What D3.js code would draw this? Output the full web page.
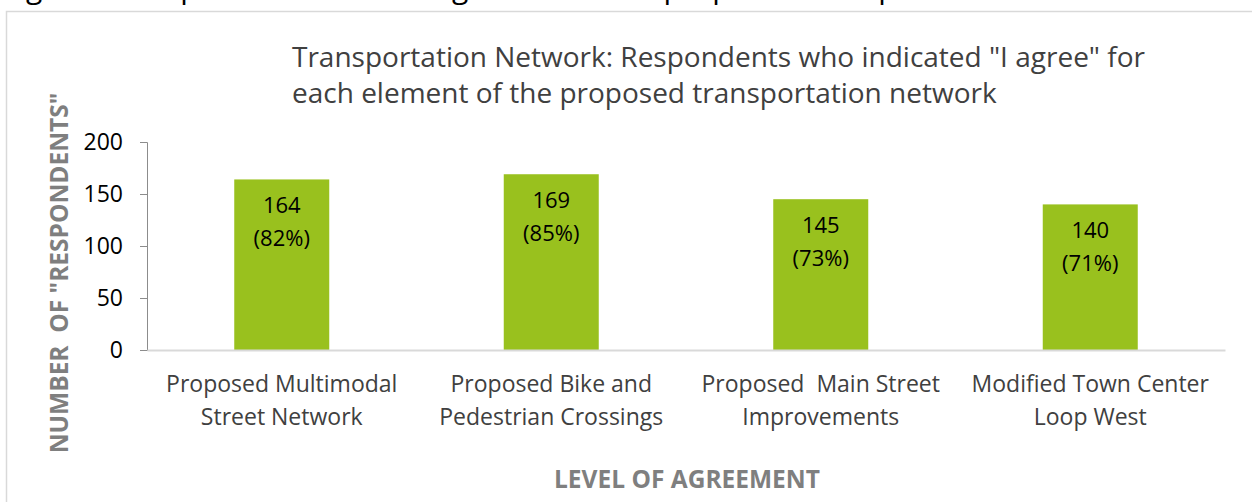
<!DOCTYPE html>
<html>
<head>
<meta charset="utf-8">
<script src="https://cdn.jsdelivr.net/npm/d3@7"></script>
<style>
  body { margin: 0; background: #fff; }
  svg { display: block; font-family: "Open Sans", sans-serif; }
</style>
</head>
<body>
<div id="chart"></div>
<script>
// data
const categories = [
  ["Proposed Multimodal", "Street Network"],
  ["Proposed Bike and", "Pedestrian Crossings"],
  ["Proposed\u00a0 Main Street", "Improvements"],
  ["Modified Town Center", "Loop West"]
];
const agreeCounts = [164, 169, 145, 140];
const agreePercents = [82, 85, 73, 71];
const yTicks = [0, 50, 100, 150, 200];

const width = 1252, height = 502;
const plotLeft = 147, plotRight = 1225, plotTop = 142, plotBottom = 350;

const svg = d3.select("#chart")
  .append("svg")
    .attr("width", width)
    .attr("height", height);

// caption of the page above, mostly cut off
svg.append("text")
  .attr("x", 3)
  .attr("y", -2)
  .style("font-size", "30px")
  .style("fill", "#000")
  .text("Figure 6: Respondents' level of agreement with proposed transportation network elements");

// chart frame
svg.append("rect")
  .attr("x", 6.5).attr("y", 11.5)
  .attr("width", 1300).attr("height", 600)
  .style("fill", "none")
  .style("stroke", "#d9d9d9")
  .style("stroke-width", 1.5);

const x = d3.scaleBand()
  .domain(d3.range(categories.length))
  .range([plotLeft, plotRight])
  .paddingInner(0.6475)
  .paddingOuter(0.32375);

const y = d3.scaleLinear()
  .domain([0, 200])
  .range([plotBottom, plotTop]);

// title
const title = svg.append("text")
  .attr("x", 292)
  .attr("y", 67)
  .style("font-size", "28px")
  .style("fill", "#404040");
title.append("tspan").attr("x", 292).text('Transportation Network: Respondents who indicated "I agree" for');
title.append("tspan").attr("x", 292).attr("dy", 36).text("each element of the proposed transportation network");

// y axis
const yAxis = svg.append("g")
  .attr("transform", `translate(${plotLeft},0)`)
  .call(d3.axisLeft(y).tickValues(yTicks).tickSize(7).tickPadding(17));
yAxis.select(".domain").style("stroke", "#8c8c8c");
yAxis.selectAll(".tick line").style("stroke", "#8c8c8c");
yAxis.selectAll(".tick text")
  .style("font-size", "23px")
  .style("font-family", "'Open Sans', sans-serif")
  .style("fill", "#000");

// bars
svg.selectAll(".bar")
  .data(agreeCounts)
  .enter()
  .append("rect")
    .attr("class", "bar")
    .attr("x", (d, i) => x(i))
    .attr("y", d => y(d))
    .attr("width", x.bandwidth())
    .attr("height", d => y(0) - y(d))
    .style("fill", "#99c11e");

// x axis
const xAxis = svg.append("g")
  .attr("transform", `translate(0,${plotBottom})`)
  .call(d3.axisBottom(x).tickSize(0).tickFormat(""));
xAxis.select(".domain").style("stroke", "#d9d9d9").style("stroke-width", 2);

// category labels on two lines
const catLabels = svg.selectAll(".cat")
  .data(categories)
  .enter()
  .append("text")
    .attr("class", "cat")
    .attr("text-anchor", "middle")
    .attr("y", plotBottom + 42)
    .style("font-size", "23px")
    .style("fill", "#404040");
catLabels.each(function(d, i) {
  const t = d3.select(this);
  d.forEach((line, j) => {
    t.append("tspan")
      .attr("x", x(i) + x.bandwidth() / 2)
      .attr("dy", j === 0 ? 0 : 33)
      .text(line);
  });
});

// value labels inside the bars
const valLabels = svg.selectAll(".val")
  .data(agreeCounts)
  .enter()
  .append("text")
    .attr("class", "val")
    .attr("text-anchor", "middle")
    .attr("y", d => y(d) + 34)
    .style("font-size", "22px")
    .style("fill", "#000");
valLabels.each(function(d, i) {
  const t = d3.select(this);
  const cx = x(i) + x.bandwidth() / 2;
  t.append("tspan").attr("x", cx).text(d);
  t.append("tspan").attr("x", cx).attr("dy", 33).text(`(${agreePercents[i]}%)`);
});

// axis titles
svg.append("text")
  .attr("text-anchor", "middle")
  .attr("transform", "rotate(-90)")
  .attr("x", -273)
  .attr("y", 68)
  .style("font-size", "24.5px")
  .style("font-weight", "bold")
  .style("fill", "#7f7f7f")
  .text('NUMBER\u00a0 OF "RESPONDENTS"');

svg.append("text")
  .attr("text-anchor", "middle")
  .attr("x", 687)
  .attr("y", 488)
  .style("font-size", "24.5px")
  .style("font-weight", "bold")
  .style("fill", "#7f7f7f")
  .text("LEVEL OF AGREEMENT");
</script>
</body>
</html>
